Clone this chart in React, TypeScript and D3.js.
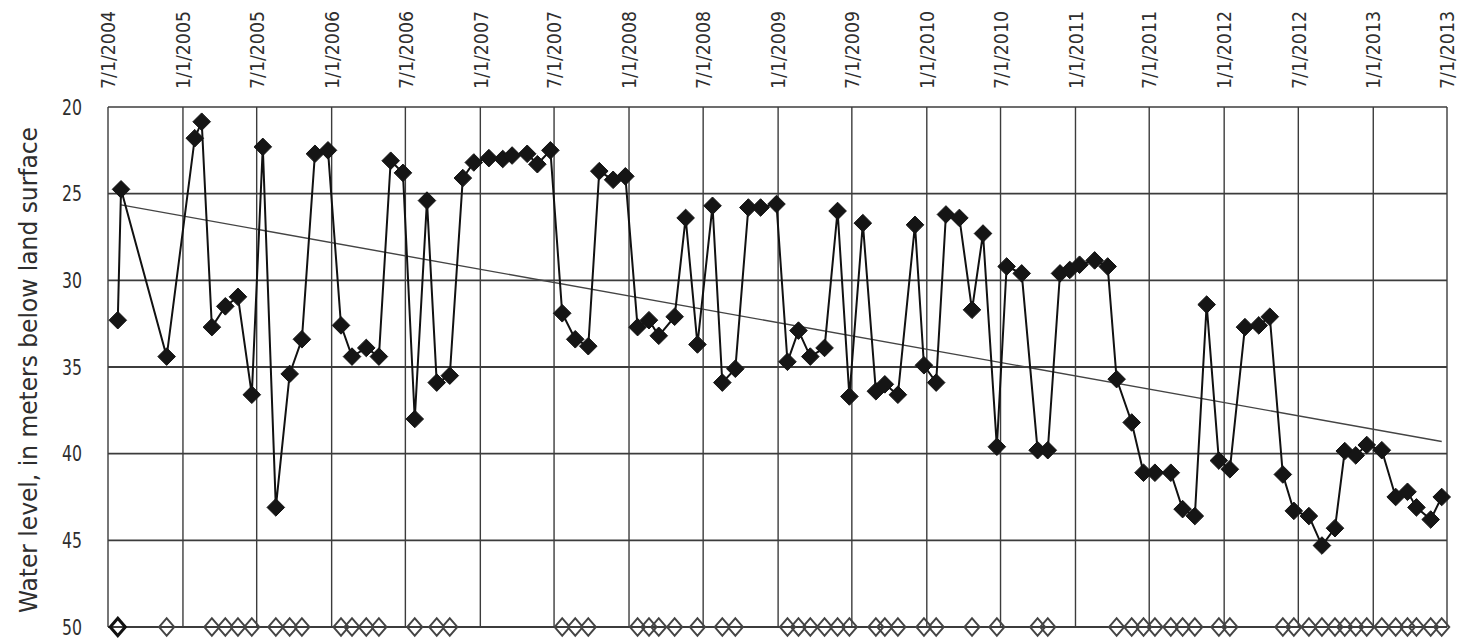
import React from "react";
import * as d3 from "d3";

// ---- data ----
const sampleDates = [
  "2004-07-25", "2004-08-02", "2004-11-22", "2005-01-30", "2005-02-16", "2005-03-13",
  "2005-04-15", "2005-05-16", "2005-06-19", "2005-07-16", "2005-08-17",
  "2005-09-20", "2005-10-20", "2005-11-21", "2005-12-23", "2006-01-24", "2006-02-20",
  "2006-03-27", "2006-04-27", "2006-05-26", "2006-06-25", "2006-07-24", "2006-08-23",
  "2006-09-16", "2006-10-18", "2006-11-19", "2006-12-16", "2007-01-22", "2007-02-25",
  "2007-03-20", "2007-04-26", "2007-05-21", "2007-06-22", "2007-07-21", "2007-08-22",
  "2007-09-23", "2007-10-20", "2007-11-23", "2007-12-23", "2008-01-22", "2008-02-19",
  "2008-03-14", "2008-04-22", "2008-05-19", "2008-06-17", "2008-07-24", "2008-08-17",
  "2008-09-18", "2008-10-20", "2008-11-19", "2008-12-28", "2009-01-24", "2009-02-20",
  "2009-03-21", "2009-04-25", "2009-05-27", "2009-06-25", "2009-07-28", "2009-08-29",
  "2009-09-20", "2009-10-22", "2009-12-03", "2009-12-25", "2010-01-24", "2010-02-17",
  "2010-03-22", "2010-04-22", "2010-05-19", "2010-06-22", "2010-07-16", "2010-08-22",
  "2010-09-30", "2010-10-25", "2010-11-24", "2010-12-18", "2011-01-11", "2011-02-17",
  "2011-03-21", "2011-04-12", "2011-05-19", "2011-06-17", "2011-07-15", "2011-08-23",
  "2011-09-21", "2011-10-21", "2011-11-19", "2011-12-19", "2012-01-15", "2012-02-21",
  "2012-03-26", "2012-04-22", "2012-05-24", "2012-06-20", "2012-07-27", "2012-08-28",
  "2012-09-29", "2012-10-23", "2012-11-19", "2012-12-16", "2013-01-22", "2013-02-25",
  "2013-03-26", "2013-04-17", "2013-05-22", "2013-06-18",
];

const waterLevels = [
  32.3, 24.75, 34.4, 21.8, 20.85, 32.7,
  31.5, 30.95, 36.6, 22.3, 43.1,
  35.4, 33.4, 22.7, 22.5, 32.6, 34.4,
  33.9, 34.4, 23.1, 23.8, 38.0, 25.4,
  35.9, 35.5, 24.1, 23.2, 22.95, 23.0,
  22.8, 22.7, 23.3, 22.5, 31.9, 33.4,
  33.8, 23.7, 24.2, 24.0, 32.7, 32.3,
  33.2, 32.1, 26.4, 33.7, 25.7, 35.9,
  35.1, 25.8, 25.8, 25.6, 34.7, 32.9,
  34.4, 33.9, 26.0, 36.7, 26.7, 36.4,
  36.0, 36.6, 26.8, 34.9, 35.9, 26.2,
  26.4, 31.7, 27.3, 39.6, 29.2, 29.6,
  39.8, 39.8, 29.6, 29.4, 29.1, 28.85,
  29.2, 35.7, 38.2, 41.1, 41.1, 41.1,
  43.2, 43.6, 31.4, 40.4, 40.9, 32.7,
  32.6, 32.1, 41.2, 43.3, 43.6, 45.3,
  44.3, 39.85, 40.1, 39.5, 39.8, 42.5,
  42.2, 43.1, 43.8, 42.5,
];

// 1 = sample also marked with an open diamond along the bottom axis
const openMarkerFlags = [
  1, 0, 1, 0, 0, 1,
  1, 1, 1, 0, 1,
  1, 1, 0, 0, 1, 1,
  1, 1, 0, 0, 1, 0,
  1, 1, 0, 0, 0, 0,
  0, 0, 0, 0, 1, 1,
  1, 0, 0, 0, 1, 1,
  1, 1, 0, 1, 0, 1,
  1, 0, 0, 0, 1, 1,
  1, 1, 1, 1, 0, 1,
  1, 1, 0, 1, 1, 0,
  0, 1, 0, 1, 0, 0,
  1, 1, 0, 0, 0, 0,
  0, 1, 1, 1, 1, 1,
  1, 1, 0, 1, 1, 0,
  0, 0, 1, 1, 1, 1,
  1, 1, 1, 1, 1, 1,
  1, 1, 1, 1,
];

const trendDates = ["2004-08-02", "2013-06-18"];
const trendLevels = [25.65, 39.3];

const xTickLabels = [
  "7/1/2004", "1/1/2005", "7/1/2005", "1/1/2006", "7/1/2006", "1/1/2007",
  "7/1/2007", "1/1/2008", "7/1/2008", "1/1/2009", "7/1/2009", "1/1/2010",
  "7/1/2010", "1/1/2011", "7/1/2011", "1/1/2012", "7/1/2012", "1/1/2013",
  "7/1/2013",
];
const yTicks = [20, 25, 30, 35, 40, 45, 50];
const yAxisTitle = "Water level, in meters below land surface";
const markerLevel = 50;

// ---- layout ----
const W = 1463;
const H = 640;
const M = { left: 108, right: 1447, top: 107, bottom: 627 };
const FONT = "'Liberation Sans Narrow', 'DejaVu Sans Condensed', 'Liberation Sans', Arial, sans-serif";

const parseIso = d3.timeParse("%Y-%m-%d");
const parseTick = d3.timeParse("%m/%d/%Y");

export default function App() {
  const tickDates = xTickLabels.map((s) => parseTick(s) as Date);
  const x = d3
    .scaleTime()
    .domain([tickDates[0], tickDates[tickDates.length - 1]])
    .range([M.left, M.right]);
  const y = d3.scaleLinear().domain([20, 50]).range([M.top, M.bottom]);

  const points = sampleDates.map((d, i) => ({
    date: parseIso(d) as Date,
    level: waterLevels[i],
    open: openMarkerFlags[i] === 1,
  }));

  const line = d3
    .line<{ date: Date; level: number }>()
    .x((d) => x(d.date))
    .y((d) => y(d.level));

  const trend = trendDates.map((d, i) => ({ date: parseIso(d) as Date, level: trendLevels[i] }));

  const diamond = d3.symbol().type(d3.symbolDiamond2).size(Math.pow(8.8 / 0.62625, 2))() as string;
  const openDiamond = d3.symbol().type(d3.symbolDiamond2).size(Math.pow(7.6 / 0.62625, 2))() as string;

  const openPts = points.filter((p) => p.open);

  return (
    <svg
      width={W}
      height={H}
      style={{ position: "absolute", left: 0, top: 0, background: "#fff" }}
    >
      <rect x={0} y={0} width={W} height={H} fill="#fff" />
      {/* vertical grid */}
      {tickDates.map((t, i) => (
        <line
          key={"vg" + i}
          x1={x(t)}
          x2={x(t)}
          y1={M.top}
          y2={M.bottom}
          stroke="#3c3c3c"
          strokeWidth={1.4}
        />
      ))}
      {/* horizontal grid */}
      {yTicks.map((v) => (
        <line
          key={"hg" + v}
          x1={M.left}
          x2={M.right}
          y1={y(v)}
          y2={y(v)}
          stroke="#3c3c3c"
          strokeWidth={v === 20 ? 1.3 : 1.8}
        />
      ))}
      {/* y tick labels */}
      {yTicks.map((v) => (
        <text
          key={"yt" + v}
          x={82}
          y={y(v)}
          dy="0.36em"
          textAnchor="end"
          fontFamily={FONT}
          fontSize={21}
          fill="#2e2e2e"
          textLength={20}
          lengthAdjust="spacingAndGlyphs"
        >
          {v}
        </text>
      ))}
      {/* x tick labels (rotated) */}
      {tickDates.map((t, i) => (
        <text
          key={"xt" + i}
          transform={`translate(${x(t)},89) rotate(-90)`}
          dy="0.36em"
          textAnchor="start"
          fontFamily={FONT}
          fontSize={20}
          fill="#2e2e2e"
          textLength={78}
          lengthAdjust="spacingAndGlyphs"
        >
          {xTickLabels[i]}
        </text>
      ))}
      {/* y axis title */}
      <text
        transform={`translate(37,${(M.top + M.bottom) / 2 + 3}) rotate(-90)`}
        textAnchor="middle"
        fontFamily={FONT}
        fontSize={25}
        fill="#2e2e2e"
        textLength={486}
        lengthAdjust="spacingAndGlyphs"
      >
        {yAxisTitle}
      </text>
      {/* trend line */}
      <path d={line(trend) as string} fill="none" stroke="#444" strokeWidth={1.4} />
      {/* data line */}
      <path d={line(points) as string} fill="none" stroke="#111" strokeWidth={2} />
      {/* filled diamonds */}
      {points.map((p, i) => (
        <path
          key={"p" + i}
          d={diamond}
          transform={`translate(${x(p.date)},${y(p.level)})`}
          fill="#151515"
          stroke="#151515"
          strokeWidth={1}
        />
      ))}
      {/* open diamonds at the bottom */}
      {openPts.map((p, i) => (
        <path
          key={"o" + i}
          d={openDiamond}
          transform={`translate(${x(p.date)},${y(markerLevel)}) scale(1,1.15)`}
          fill="none"
          stroke={i === 0 ? "#111" : "#444"}
          strokeWidth={i === 0 ? 2.8 : 1.8}
        />
      ))}
    </svg>
  );
}
